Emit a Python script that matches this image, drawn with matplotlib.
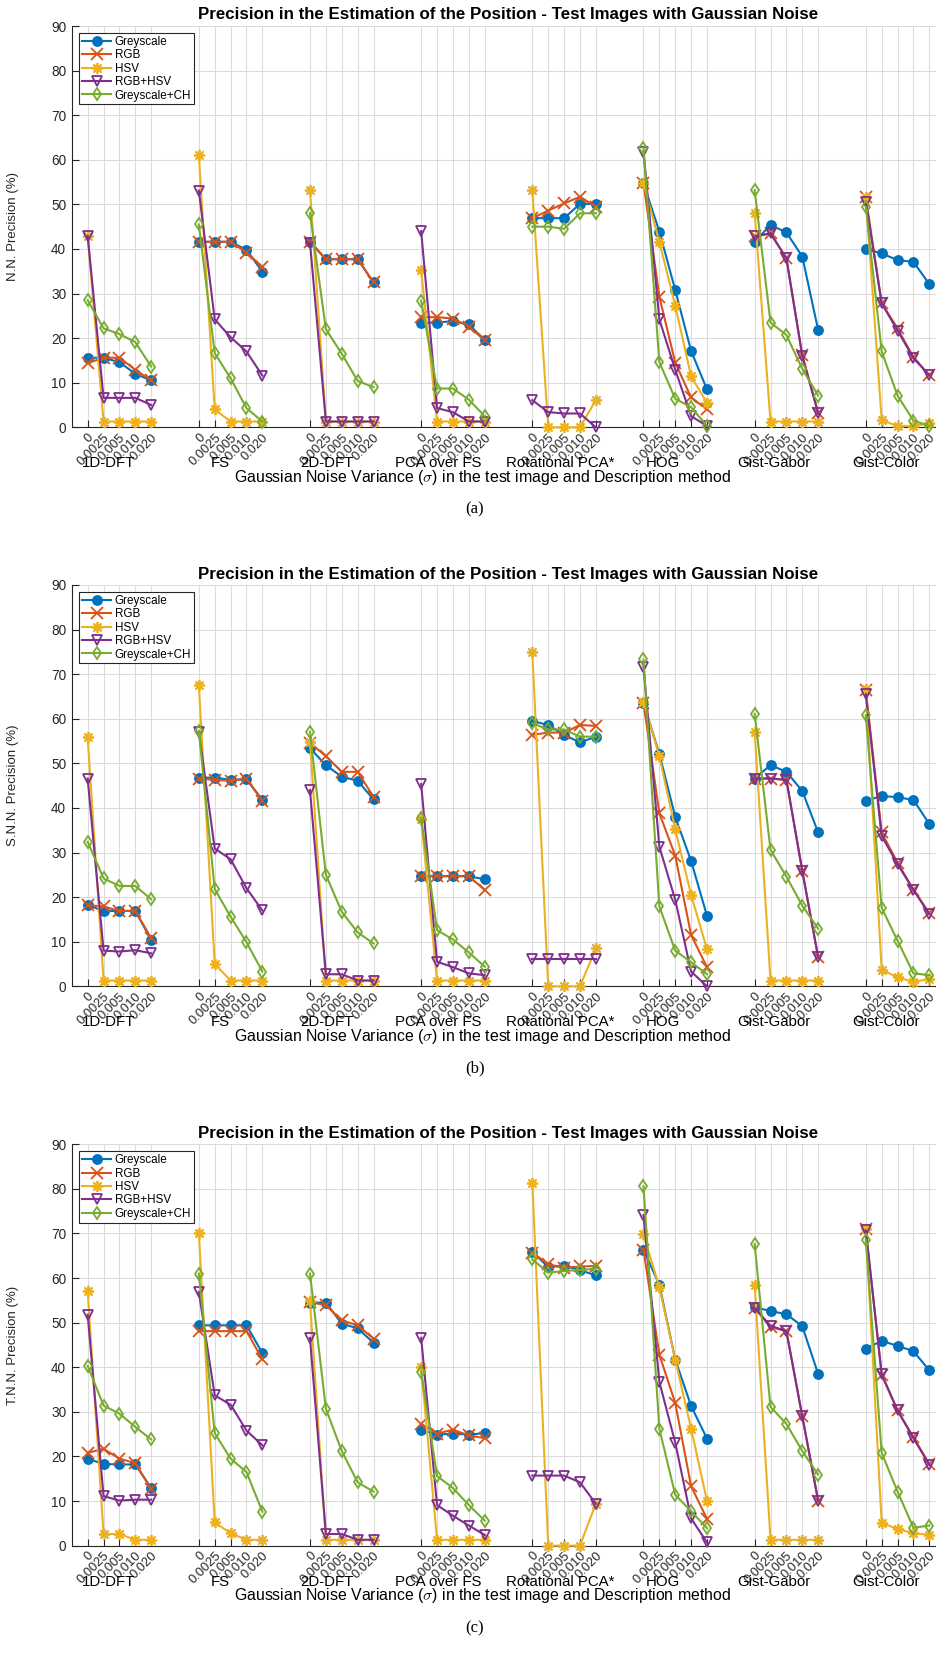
import numpy as np
import matplotlib
matplotlib.use("Agg")
import matplotlib.pyplot as plt

# ---------------- data ----------------
methods = ["1D-DFT", "FS", "2D-DFT", "PCA over FS", "Rotational PCA*", "HOG", "Gist-Gabor", "Gist-Color"]
noise_labels = ["0", "0.0025", "0.005", "0.010", "0.020"]
series_names = ["Greyscale", "RGB", "HSV", "RGB+HSV", "Greyscale+CH"]
panel_ylabels = ["N.N. Precision (%)", "S.N.N. Precision (%)", "T.N.N. Precision (%)"]
panel_tags = ["(a)", "(b)", "(c)"]

# (a) N.N. precision, 8 methods x 5 noise levels
nn_greyscale = [15.6, 15.6, 14.6, 12.0, 10.5,  41.6, 41.6, 41.6, 39.8, 34.9,  41.6, 37.7, 37.7, 37.7, 32.5,
                23.4, 23.5, 23.8, 23.1, 19.5,  46.9, 46.9, 46.9, 50.1, 50.1,  54.7, 43.9, 30.8, 17.1, 8.5,
                41.6, 45.4, 43.7, 38.3, 21.8,  40.0, 39.0, 37.5, 37.1, 32.1]
nn_rgb = [14.4, 15.6, 15.6, 12.9, 10.5,  41.6, 41.6, 41.6, 39.2, 36.0,  41.6, 37.7, 37.7, 37.7, 32.5,
          24.7, 24.7, 24.4, 22.6, 19.5,  46.9, 48.6, 50.2, 51.7, 49.5,  54.9, 29.3, 14.5, 6.7, 4.0,
          42.8, 43.5, 37.9, 16.2, 3.3,  51.6, 27.8, 22.2, 15.7, 11.7]
nn_hsv = [42.9, 1.3, 1.3, 1.3, 1.3,  61.1, 4.0, 1.3, 1.3, 1.3,  53.2, 1.3, 1.3, 1.3, 1.3,
          35.2, 1.3, 1.3, 1.3, 1.3,  53.2, 0.0, 0.0, 0.0, 6.1,  54.7, 41.6, 27.3, 11.4, 5.5,
          48.1, 1.3, 1.3, 1.3, 1.3,  51.7, 1.6, 0.3, 0.3, 0.9]
nn_rgbhsv = [42.9, 6.6, 6.6, 6.6, 5.0,  53.1, 24.2, 20.2, 17.0, 11.6,  41.4, 1.3, 1.3, 1.3, 1.3,
             44.0, 4.3, 3.4, 1.3, 1.3,  6.1, 3.4, 3.1, 3.1, 0.0,  61.8, 24.2, 12.9, 2.5, 0.3,
             42.8, 43.5, 37.9, 16.0, 3.1,  50.6, 27.8, 21.7, 15.5, 11.7]
nn_greych = [28.5, 22.2, 20.9, 19.1, 13.6,  45.5, 16.6, 11.0, 4.3, 1.3,  48.0, 22.0, 16.5, 10.4, 9.0,
             28.4, 8.7, 8.7, 6.2, 2.5,  45.0, 45.0, 44.5, 48.0, 48.0,  62.7, 14.6, 6.4, 4.5, 0.3,
             53.2, 23.5, 20.7, 13.1, 7.1,  49.5, 17.0, 7.1, 1.5, 0.3]

# (b) S.N.N. precision
snn_greyscale = [18.2, 16.9, 16.9, 16.9, 10.4,  46.8, 46.8, 46.3, 46.4, 41.8,  53.4, 49.6, 47.0, 46.1, 41.9,
                 24.7, 24.7, 24.7, 24.7, 24.0,  59.5, 58.6, 56.4, 54.7, 56.0,  63.6, 52.1, 38.0, 28.1, 15.8,
                 46.6, 49.6, 48.1, 43.8, 34.5,  41.6, 42.7, 42.4, 41.8, 36.4]
snn_rgb = [18.2, 17.9, 16.9, 16.9, 10.8,  46.6, 46.3, 46.1, 46.6, 41.6,  54.6, 51.6, 48.1, 48.1, 42.5,
           24.7, 24.7, 24.7, 24.7, 21.6,  56.4, 56.9, 56.9, 58.6, 58.4,  63.6, 38.8, 29.3, 11.5, 4.3,
           46.6, 46.6, 46.3, 25.9, 6.5,  66.4, 34.5, 27.7, 21.7, 16.4]
snn_hsv = [55.8, 1.3, 1.3, 1.3, 1.3,  67.6, 5.0, 1.3, 1.3, 1.3,  54.9, 1.3, 1.3, 1.3, 1.3,
           37.5, 1.3, 1.3, 1.3, 1.3,  75.0, 0.0, 0.0, 0.0, 8.5,  63.8, 51.6, 35.2, 20.5, 8.3,
           57.1, 1.3, 1.3, 1.3, 1.3,  66.6, 3.7, 2.0, 1.0, 1.6]
snn_rgbhsv = [46.6, 8.0, 7.8, 8.1, 7.4,  57.1, 30.9, 28.5, 22.0, 17.0,  44.0, 2.7, 2.7, 1.3, 1.3,
              45.4, 5.5, 4.3, 2.9, 2.5,  6.1, 6.1, 6.1, 6.1, 6.1,  71.7, 31.3, 19.4, 3.3, 0.0,
              46.6, 46.6, 46.3, 25.9, 6.5,  65.5, 33.7, 27.4, 21.6, 16.2]
snn_greych = [32.4, 24.2, 22.5, 22.5, 19.5,  57.3, 21.8, 15.6, 9.9, 3.3,  57.1, 25.0, 16.7, 12.1, 9.6,
              37.7, 12.6, 10.5, 7.6, 4.4,  59.0, 57.6, 57.6, 56.0, 56.0,  73.3, 17.9, 8.0, 5.4, 2.7,
              61.1, 30.6, 24.6, 18.1, 12.9,  60.8, 17.6, 10.2, 2.9, 2.5]

# (c) T.N.N. precision
tnn_greyscale = [19.5, 18.3, 18.2, 18.2, 12.9,  49.4, 49.4, 49.4, 49.4, 43.2,  54.5, 54.5, 49.8, 48.7, 45.5,
                 26.0, 24.9, 25.1, 24.9, 25.2,  65.9, 62.5, 62.7, 61.8, 60.6,  66.4, 58.5, 41.7, 31.3, 24.0,
                 53.5, 52.6, 51.9, 49.2, 38.5,  44.2, 45.9, 44.8, 43.6, 39.3]
tnn_rgb = [20.8, 21.7, 19.5, 18.5, 12.6,  48.1, 48.1, 48.1, 48.1, 41.8,  54.6, 53.9, 50.5, 49.4, 46.4,
           27.3, 25.1, 26.0, 24.7, 24.1,  65.7, 63.1, 62.3, 62.6, 62.7,  66.4, 42.8, 32.0, 13.3, 6.0,
           53.3, 49.0, 48.1, 29.0, 10.0,  70.9, 38.2, 30.3, 24.3, 18.3]
tnn_hsv = [57.1, 2.6, 2.6, 1.3, 1.3,  70.2, 5.2, 2.8, 1.3, 1.3,  54.8, 1.3, 1.3, 1.3, 1.3,
           40.0, 1.3, 1.3, 1.3, 1.3,  81.4, 0.0, 0.0, 0.0, 9.4,  69.8, 57.9, 41.7, 26.2, 10.0,
           58.5, 1.3, 1.3, 1.3, 1.3,  70.9, 5.1, 3.7, 2.8, 2.4]
tnn_rgbhsv = [51.8, 11.1, 10.1, 10.3, 10.3,  56.9, 33.7, 31.6, 25.8, 22.5,  46.6, 2.6, 2.6, 1.3, 1.3,
              46.6, 9.1, 6.7, 4.5, 2.4,  15.7, 15.7, 15.7, 14.2, 9.4,  74.1, 36.7, 23.1, 6.1, 0.7,
              53.3, 49.3, 48.1, 29.0, 10.1,  70.7, 38.5, 30.3, 24.1, 18.1]
tnn_greych = [40.3, 31.4, 29.6, 26.6, 23.8,  61.0, 25.2, 19.5, 16.5, 7.6,  61.0, 30.7, 21.2, 14.2, 12.1,
              38.9, 15.6, 12.9, 9.1, 5.6,  64.2, 61.2, 61.6, 61.8, 62.1,  80.6, 26.2, 11.4, 7.7, 3.9,
              67.7, 31.1, 27.3, 21.2, 15.9,  68.5, 20.8, 12.1, 4.0, 4.5]

panels = [
    [nn_greyscale, nn_rgb, nn_hsv, nn_rgbhsv, nn_greych],
    [snn_greyscale, snn_rgb, snn_hsv, snn_rgbhsv, snn_greych],
    [tnn_greyscale, tnn_rgb, tnn_hsv, tnn_rgbhsv, tnn_greych],
]

# ---------------- style ----------------
colors = ["#0072BD", "#D95319", "#EDB120", "#7E2F8E", "#77AC30"]
markers = ["o", "x", (8, 2, 0), "v", "d"]
msizes = [6.5, 8.0, 8.0, 7.0, 6.5]
fills = [True, False, False, False, False]

plt.rcParams["font.family"] = ["Liberation Sans", "DejaVu Sans"]
plt.rcParams["mathtext.fontset"] = "cm"

W, H = 936, 1675
fig = plt.figure(figsize=(W / 100, H / 100), dpi=100)
fig.patch.set_facecolor("white")

ax_left_px = 71.8
step_px = 15.88
ax_right_px = ax_left_px + 55 * step_px
ax_h_px = 401.3
panel_tops = [26.0, 585.0, 1144.3]
group_label_px = [109, 220, 326.5, 438.5, 560, 663, 773.5, 886]

n_groups = len(methods)
n_levels = len(noise_labels)
xpos = [g * 7 + 1 + i for g in range(n_groups) for i in range(n_levels)]

for p, top in enumerate(panel_tops):
    bottom = top + ax_h_px
    ax = fig.add_axes([ax_left_px / W, 1 - bottom / H, (ax_right_px - ax_left_px) / W, ax_h_px / H])
    ax.set_xlim(0, 55)
    ax.set_ylim(0, 90)
    ax.set_yticks(np.arange(0, 91, 10))
    ax.set_xticks(xpos)
    ax.set_xticklabels(noise_labels * n_groups, rotation=45, ha="right", va="top",
                       rotation_mode="anchor", fontsize=9.3, color="#262626")
    ax.tick_params(axis="x", direction="in", length=5, width=0.8, color="#262626", pad=3)
    ax.tick_params(axis="y", direction="in", length=5, width=0.8, color="#262626", pad=4,
                   labelsize=9.8, labelcolor="#262626")
    ax.grid(True, color="#dcdcdc", linewidth=0.8)
    ax.set_axisbelow(True)
    for s in ["top", "right"]:
        ax.spines[s].set_visible(False)
    for s in ["left", "bottom"]:
        ax.spines[s].set_color("#262626")
        ax.spines[s].set_linewidth(0.8)

    for k, name in enumerate(series_names):
        vals = panels[p][k]
        for g in range(n_groups):
            xs = xpos[g * n_levels:(g + 1) * n_levels]
            ys = vals[g * n_levels:(g + 1) * n_levels]
            ax.plot(xs, ys, color=colors[k], linewidth=1.5, marker=markers[k],
                    markersize=msizes[k], markeredgewidth=1.3,
                    markerfacecolor=colors[k] if fills[k] else "none",
                    markeredgecolor=colors[k], clip_on=False, zorder=3 + k,
                    label=name if g == 0 else None)

    leg = ax.legend(loc="upper left",
                    bbox_to_anchor=((79 - ax_left_px) / (ax_right_px - ax_left_px), 1 - 7 / ax_h_px),
                    bbox_transform=ax.transAxes,
                    fontsize=8.4, frameon=True, fancybox=False, borderaxespad=0,
                    handlelength=2.5, handletextpad=0.3, labelspacing=0.12, borderpad=0.25)
    fr = leg.get_frame()
    fr.set_edgecolor("#262626")
    fr.set_linewidth(0.8)
    fr.set_alpha(1)

    ax.set_ylabel(panel_ylabels[p], fontsize=9.5, color="#262626")
    ax.yaxis.set_label_coords(-(ax_left_px - 19) / (ax_right_px - ax_left_px), 0.5)

    # title
    fig.text((ax_left_px + ax_right_px) / 2 / W, 1 - (top - 11) / H,
             "Precision in the Estimation of the Position - Test Images with Gaussian Noise",
             ha="center", va="center", fontsize=12.2, fontweight="bold")
    # group labels
    for g, m in enumerate(methods):
        fig.text(group_label_px[g] / W, 1 - (bottom + 36) / H, m, ha="center", va="center", fontsize=10.8)
    fig.text(483 / W, 1 - (bottom + 50) / H,
             r"Gaussian Noise Variance ($\sigma$) in the test image and Description method",
             ha="center", va="center", fontsize=11.4)
    fig.text(475 / W, 1 - (bottom + 82.5) / H, panel_tags[p], ha="center", va="center",
             fontsize=12, family="Liberation Serif")

fig.savefig("out.png", dpi=100)
